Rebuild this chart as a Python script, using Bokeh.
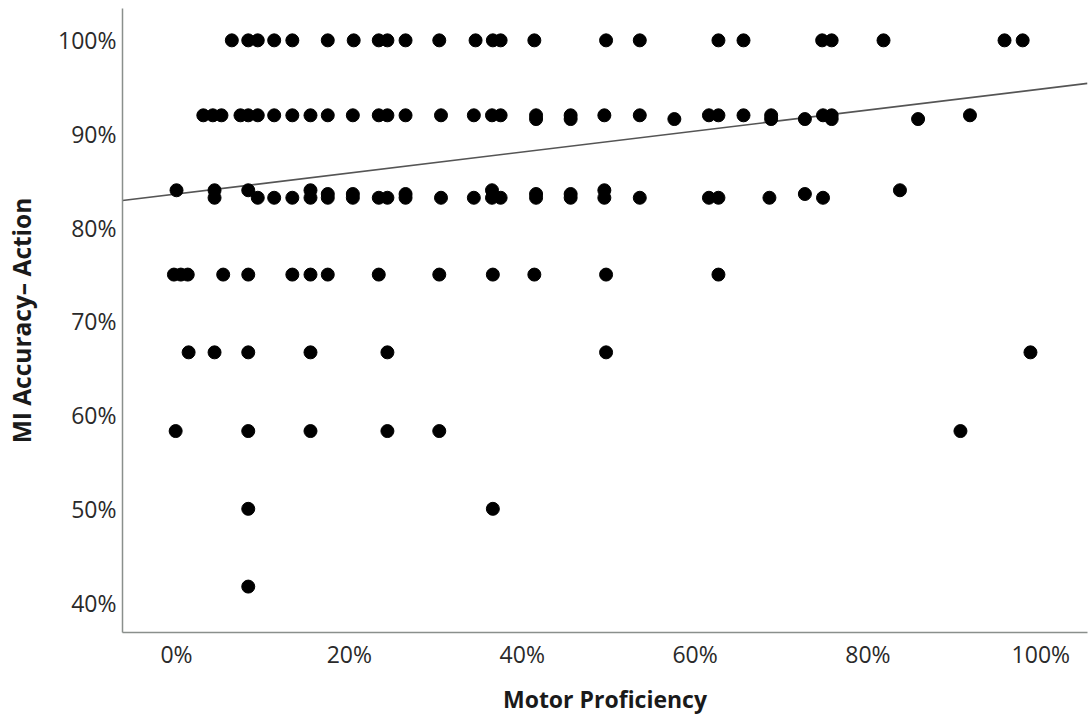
from bokeh.plotting import figure
from bokeh.models import Range1d, FixedTicker, PrintfTickFormatter
from bokeh.embed import file_html
from bokeh.resources import INLINE

# ---- data (percent units) ----
row_100_x = [6.4, 8.3, 9.4, 11.3, 13.4, 17.5, 20.5, 23.4, 24.4, 26.5, 30.4, 34.6,
             36.6, 37.5, 41.4, 49.7, 53.6, 62.7, 65.6, 74.7, 75.8, 81.8, 95.8, 97.9]
row_920_x = [3.1, 4.2, 5.2, 7.4, 8.3, 9.4, 11.3, 13.4, 15.5, 17.5, 20.4, 23.4, 24.4,
             26.5, 30.6, 34.4, 36.5, 37.5, 41.6, 45.6, 49.5, 53.6, 61.6, 62.7, 65.6,
             68.8, 74.8, 75.8, 91.8]
row_917_x = [41.6, 45.6, 57.6, 68.8, 72.7, 75.8, 85.8]
row_840_x = [0.0, 4.4, 8.3, 15.5, 36.5, 49.5, 83.7]
row_836_x = [17.5, 20.4, 26.5, 41.6, 45.6, 72.7]
row_833_x = [4.4, 9.4, 11.3, 13.4, 15.5, 17.5, 20.4, 23.4, 24.4, 26.5, 30.6, 34.4,
             36.5, 37.5, 41.6, 45.6, 49.5, 53.6, 61.6, 62.7, 68.6, 74.8]
row_750_x = [-0.3, 0.5, 1.3, 5.4, 8.3, 13.4, 15.5, 17.5, 23.4, 30.4, 36.6, 41.4, 49.7, 62.7]
row_667_x = [1.4, 4.4, 8.3, 15.5, 24.4, 49.7, 98.8]
row_583_x = [-0.1, 8.3, 15.5, 24.4, 30.4, 90.7]
row_500_x = [8.3, 36.6]
row_417_x = [8.3]

rows = [
    (100.0, row_100_x), (92.0, row_920_x), (91.6, row_917_x), (84.0, row_840_x),
    (83.6, row_836_x), (83.2, row_833_x), (75.0, row_750_x), (66.7, row_667_x),
    (58.3, row_583_x), (50.0, row_500_x), (41.7, row_417_x),
]

fit_intercept = 83.6
fit_slope = 0.112

x_ticks = [0, 20, 40, 60, 80, 100]
y_ticks = [40, 50, 60, 70, 80, 90, 100]

xs, ys = [], []
for yv, xl in rows:
    for xv in xl:
        xs.append(xv)
        ys.append(yv)

x_lo, x_hi = -6.25, 105.4
y_lo, y_hi = 36.8, 103.4

p = figure(frame_width=965, frame_height=624, output_backend="svg", toolbar_location=None,
           x_range=Range1d(x_lo, x_hi), y_range=Range1d(y_lo, y_hi),
           min_border_left=122, min_border_right=3, min_border_top=8, min_border_bottom=86)
p.outline_line_color = None
p.xgrid.visible = False
p.ygrid.visible = False
p.background_fill_color = "white"
p.border_fill_color = "white"

fx = [x_lo, x_hi]
fy = [fit_intercept + fit_slope * v for v in fx]
p.line(fx, fy, line_color="#555555", line_width=1.6)

p.scatter(xs, ys, size=13, fill_color="black", line_color="black")

for ax in (p.xaxis[0], p.yaxis[0]):
    ax.axis_line_color = "#8a8f8c"
    ax.axis_line_width = 1.5
    ax.major_tick_line_color = None
    ax.minor_tick_line_color = None
    ax.major_tick_out = 0
    ax.major_tick_in = 0
    ax.minor_tick_out = 0
    ax.major_label_text_font = "Open Sans"
    ax.major_label_text_font_size = "23px"
    ax.major_label_text_color = "#2a2a2a"
    ax.axis_label_text_font = "Open Sans"
    ax.axis_label_text_font_style = "bold"
    ax.axis_label_text_font_size = "23px"
    ax.axis_label_text_color = "#1a1a1a"
    ax.formatter = PrintfTickFormatter(format="%d%%")

p.xaxis[0].ticker = FixedTicker(ticks=x_ticks)
p.yaxis[0].ticker = FixedTicker(ticks=y_ticks)
p.xaxis[0].axis_label = "Motor Proficiency"
p.yaxis[0].axis_label = "MI Accuracy\u2013 Action"
p.yaxis[0].axis_label_text_font_size = "24.5px"
p.xaxis[0].major_label_standoff = 5
p.xaxis[0].axis_label_standoff = 10
p.yaxis[0].major_label_standoff = 6
p.yaxis[0].axis_label_standoff = 17

open("out.html", "w").write(file_html(p, INLINE))
